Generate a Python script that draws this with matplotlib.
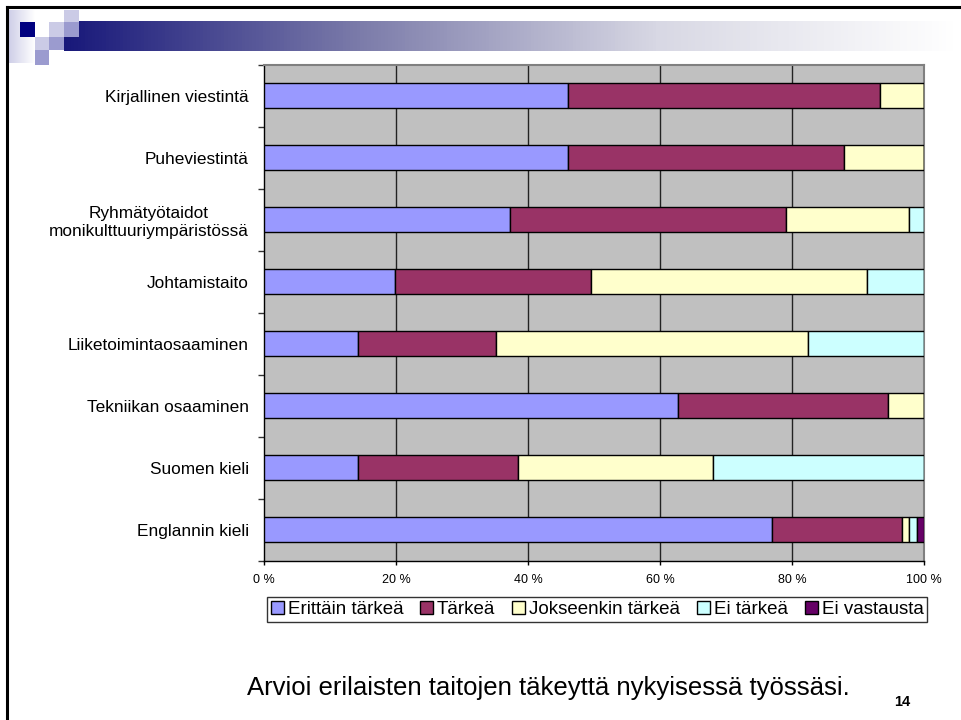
import numpy as np
import matplotlib
matplotlib.use("Agg")
import matplotlib.pyplot as plt
from matplotlib.patches import Rectangle
from matplotlib.colors import LinearSegmentedColormap

plt.rcParams['font.family'] = ['Liberation Sans', 'DejaVu Sans']

# data (percent), top row first
categories = ["Kirjallinen viestintä", "Puheviestintä",
              "Ryhmätyötaidot\nmonikulttuuriympäristössä", "Johtamistaito",
              "Liiketoimintaosaaminen", "Tekniikan osaaminen",
              "Suomen kieli", "Englannin kieli"]
series = ["Erittäin tärkeä", "Tärkeä", "Jokseenkin tärkeä", "Ei tärkeä", "Ei vastausta"]
erittain = [46.1, 46.1, 37.3, 19.8, 14.3, 62.7, 14.3, 76.9]
tarkea = [47.3, 41.8, 41.8, 29.7, 20.9, 31.8, 24.2, 19.7]
jokseenkin = [6.6, 12.1, 18.7, 41.8, 47.2, 5.5, 29.6, 1.1]
ei_tarkea = [0, 0, 2.2, 8.7, 17.6, 0, 31.9, 1.2]
ei_vastausta = [0, 0, 0, 0, 0, 0, 0, 1.1]
colors = ["#9999FF", "#993366", "#FFFFCC", "#CCFFFF", "#660066"]
caption = "Arvioi erilaisten taitojen täkeyttä nykyisessä työssäsi."
page_no = "14"

W, H = 961, 720
fig = plt.figure(figsize=(W / 100, H / 100), dpi=100)

def px_rect(x0, y0, x1, y1, color):
    fig.patches.append(Rectangle((x0 / W, 1 - y1 / H), (x1 - x0) / W, (y1 - y0) / H,
                                 transform=fig.transFigure, facecolor=color,
                                 edgecolor='none', zorder=1))

# slide decoration: banner gradient
ban = fig.add_axes([64 / W, 1 - 51 / H, (955 - 64) / W, 30 / H])
cmap = LinearSegmentedColormap.from_list("ban", ["#18187a", "#7c7caa", "#d8d8e4", "#ffffff"])
ban.imshow(np.linspace(0, 1, 256)[None, :], aspect='auto', cmap=cmap)
ban.axis('off')
fade = fig.add_axes([9 / W, 1 - 63 / H, 26 / W, 53 / H])
fade.imshow(np.linspace(0, 1, 64)[None, :], aspect='auto',
            cmap=LinearSegmentedColormap.from_list("f", ["#cfcfe8", "#ffffff"]))
fade.axis('off')
px_rect(20, 22, 35, 37, "#000080")
px_rect(49, 22, 64, 37, "#cbcbe6")
px_rect(64, 10, 79, 22, "#cbcbe6")
px_rect(35, 37, 49, 50, "#cbcbe6")
px_rect(49, 37, 64, 50, "#9b9bcf")
px_rect(35, 50, 49, 65, "#9b9bcf")
fig.add_artist(plt.Line2D([7 / W, 7 / W], [0, 1 - 7 / H], color='black', lw=2.2,
                          transform=fig.transFigure))
fig.add_artist(plt.Line2D([7 / W, 1], [1 - 7 / H, 1 - 7 / H], color='black', lw=2.2,
                          transform=fig.transFigure))
fig.add_artist(Rectangle((64 / W, 1 - 37 / H), 15 / W, 15 / H, transform=fig.transFigure,
                         facecolor="#9b9bcf", edgecolor='none'))

# chart
ax = fig.add_axes([264 / W, 1 - 560.5 / H, 660 / W, 495.8 / H])
ax.set_facecolor("#C0C0C0")
n = len(categories)
y = np.arange(n)[::-1]
left = np.zeros(n)
for name, vals, c in zip(series, [erittain, tarkea, jokseenkin, ei_tarkea, ei_vastausta], colors):
    vals = np.array(vals)
    ax.barh(y, vals, left=left, height=0.4, color=c, edgecolor='black', lw=1.0,
            label=name, zorder=3)
    left += vals

ax.set_xlim(0, 100)
ax.set_ylim(-0.5, n - 0.5)
ax.set_xticks([0, 20, 40, 60, 80, 100])
ax.set_xticklabels(["0 %", "20 %", "40 %", "60 %", "80 %", "100 %"], fontsize=9)
ax.set_yticks(y)
ax.set_yticklabels(categories, fontsize=12.4)
ax.set_yticks(np.arange(n + 1) - 0.5, minor=True)
ax.tick_params(axis='y', which='major', length=0, pad=11)
ax.tick_params(axis='y', which='minor', length=4, width=1, color='#333333')
ax.tick_params(axis='x', which='major', length=3, width=1, pad=7)
for lbl in ax.get_yticklabels():
    lbl.set_multialignment('center')
for xv in [20, 40, 60, 80]:
    ax.axvline(xv, color='#222222', lw=1.0, zorder=1)
for s in ['top', 'right']:
    ax.spines[s].set_color('#808080')
    ax.spines[s].set_linewidth(1.5)
for s in ['left', 'bottom']:
    ax.spines[s].set_color('black')
    ax.spines[s].set_linewidth(1.0)

leg = fig.legend(loc='center', bbox_to_anchor=(597 / W, 1 - 609.5 / H), ncol=5,
                 fontsize=13.5, frameon=True, fancybox=False, edgecolor='black',
                 handlelength=0.7, handleheight=0.7, handletextpad=0.2,
                 columnspacing=0.9, borderpad=0.2, borderaxespad=0)
leg.get_frame().set_linewidth(1.0)

fig.text(548 / W, 1 - 688 / H, caption, fontsize=18.5, ha='center', va='center')
fig.text(902 / W, 1 - 702 / H, page_no, fontsize=10.5, fontweight='bold', ha='center', va='center')

fig.savefig("out.png", dpi=100)
